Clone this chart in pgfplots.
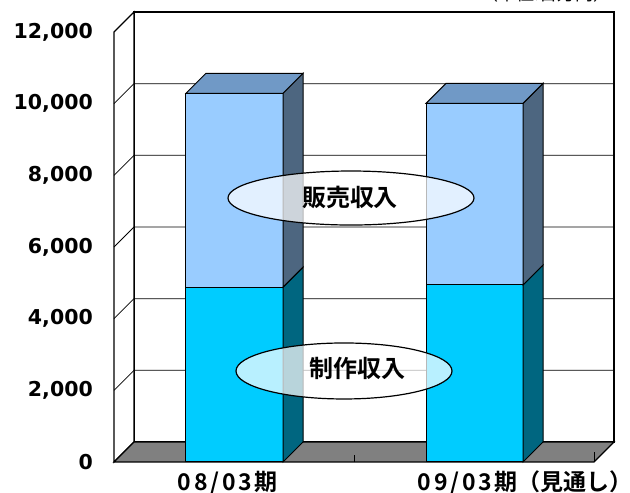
\documentclass[border=0pt]{standalone}
\usepackage{fontspec}
\usepackage{pgfplots}
\pgfplotsset{compat=1.18}
\usetikzlibrary{shapes.geometric}
\newfontfamily\jp{Noto Sans CJK JP}[BoldFont={Noto Sans CJK JP Bold}]
\newfontfamily\dvb{DejaVu Sans Bold}
\definecolor{lowF}{HTML}{00CCFF}
\definecolor{lowS}{HTML}{006680}
\definecolor{upF}{HTML}{99CCFF}
\definecolor{upS}{HTML}{4D6680}
\definecolor{topC}{HTML}{7099C6}
\definecolor{floorC}{HTML}{808080}
\begin{document}
\begin{tikzpicture}
\useasboundingbox (0,0) rectangle (630pt,493pt);
\clip (0,0) rectangle (630pt,493pt);
\begin{axis}[
  at={(114pt,31pt)}, anchor=south west,
  scale only axis, width=480pt, height=430pt,
  xmin=0, xmax=480, ymin=0, ymax=12000,
  clip=false,
  scaled y ticks=false,
  axis line style={draw=none},
  tick style={draw=none},
  major tick length=0pt,
  ytick={0,2000,4000,6000,8000,10000,12000},
  yticklabels={0,{2,000},{4,000},{6,000},{8,000},{10,000},{12,000}},
  yticklabel style={font=\dvb\fontsize{20.5}{20.5}\selectfont, anchor=east, inner sep=0pt, xshift=-21pt},
  xtick={120.5,360.5},
  xticklabels={08/03期,{09/03期\addfontfeature{LetterSpace=0}（見通し）}},
  xticklabel style={font=\jp\bfseries\fontsize{23}{23}\selectfont\addfontfeature{LetterSpace=12}, anchor=north west, inner sep=0pt, xshift=-57pt, yshift=-9pt},
]
% back wall
\addplot[fill=white, draw=black, line width=1.2pt] coordinates {(20,558) (500,558) (500,12558) (20,12558)} -- cycle;
% left wall
\addplot[fill=white, draw=black, line width=1.2pt] coordinates {(0,0) (20,558) (20,12558) (0,12000)} -- cycle;
% gridlines
\addplot[black, line width=0.8pt] coordinates {(0,2000) (20,2558) (500,2558)};
\addplot[black, line width=0.8pt] coordinates {(0,4000) (20,4558) (500,4558)};
\addplot[black, line width=0.8pt] coordinates {(0,6000) (20,6558) (500,6558)};
\addplot[black, line width=0.8pt] coordinates {(0,8000) (20,8558) (500,8558)};
\addplot[black, line width=0.8pt] coordinates {(0,10000) (20,10558) (500,10558)};
% floor
\addplot[fill=floorC, draw=black, line width=1.2pt] coordinates {(0,0) (480,0) (500,558) (20,558)} -- cycle;
\addplot[black, line width=0.8pt] coordinates {(240,0) (240,200)};
\addplot[black, line width=0.8pt] coordinates {(480,0) (480,280)};
% bar 1 (08/03): lower 4880, total 10290
\addplot[fill=lowF, draw=black, line width=1pt] coordinates {(72,0) (169,0) (169,4880) (72,4880)} -- cycle;
\addplot[fill=upF, draw=black, line width=1pt] coordinates {(72,4880) (169,4880) (169,10290) (72,10290)} -- cycle;
\addplot[fill=lowS, draw=black, line width=1pt] coordinates {(169,0) (189,558) (189,5438) (169,4880)} -- cycle;
\addplot[fill=upS, draw=black, line width=1pt] coordinates {(169,4880) (189,5438) (189,10848) (169,10290)} -- cycle;
\addplot[fill=topC, draw=black, line width=1pt] coordinates {(72,10290) (169,10290) (189,10848) (92,10848)} -- cycle;
% bar 2 (09/03): lower 4940, total 10010
\addplot[fill=lowF, draw=black, line width=1pt] coordinates {(312,0) (409,0) (409,4940) (312,4940)} -- cycle;
\addplot[fill=upF, draw=black, line width=1pt] coordinates {(312,4940) (409,4940) (409,10010) (312,10010)} -- cycle;
\addplot[fill=lowS, draw=black, line width=1pt] coordinates {(409,0) (429,558) (429,5498) (409,4940)} -- cycle;
\addplot[fill=upS, draw=black, line width=1pt] coordinates {(409,4940) (429,5498) (429,10568) (409,10010)} -- cycle;
\addplot[fill=topC, draw=black, line width=1pt] coordinates {(312,10010) (409,10010) (429,10568) (332,10568)} -- cycle;
% labels
\node[ellipse, draw=black, line width=1.2pt, fill=white, fill opacity=0.72, minimum width=246pt, minimum height=54pt, inner sep=0pt] at (axis cs:237,7367) {};
\node[font=\jp\bfseries\fontsize{24}{24}\selectfont, inner sep=0pt] at (axis cs:236,7390) {販売収入};
\node[ellipse, draw=black, line width=1.2pt, fill=white, fill opacity=0.72, minimum width=216pt, minimum height=56pt, inner sep=0pt] at (axis cs:230,2540) {};
\node[font=\jp\bfseries\fontsize{24}{24}\selectfont, inner sep=0pt] at (axis cs:243,2623) {制作収入};
\end{axis}
\node[anchor=base east, font=\jp\fontsize{18}{18}\selectfont, inner sep=0pt] at (612pt,492pt) {（単位:百万円）};
\end{tikzpicture}
\end{document}
